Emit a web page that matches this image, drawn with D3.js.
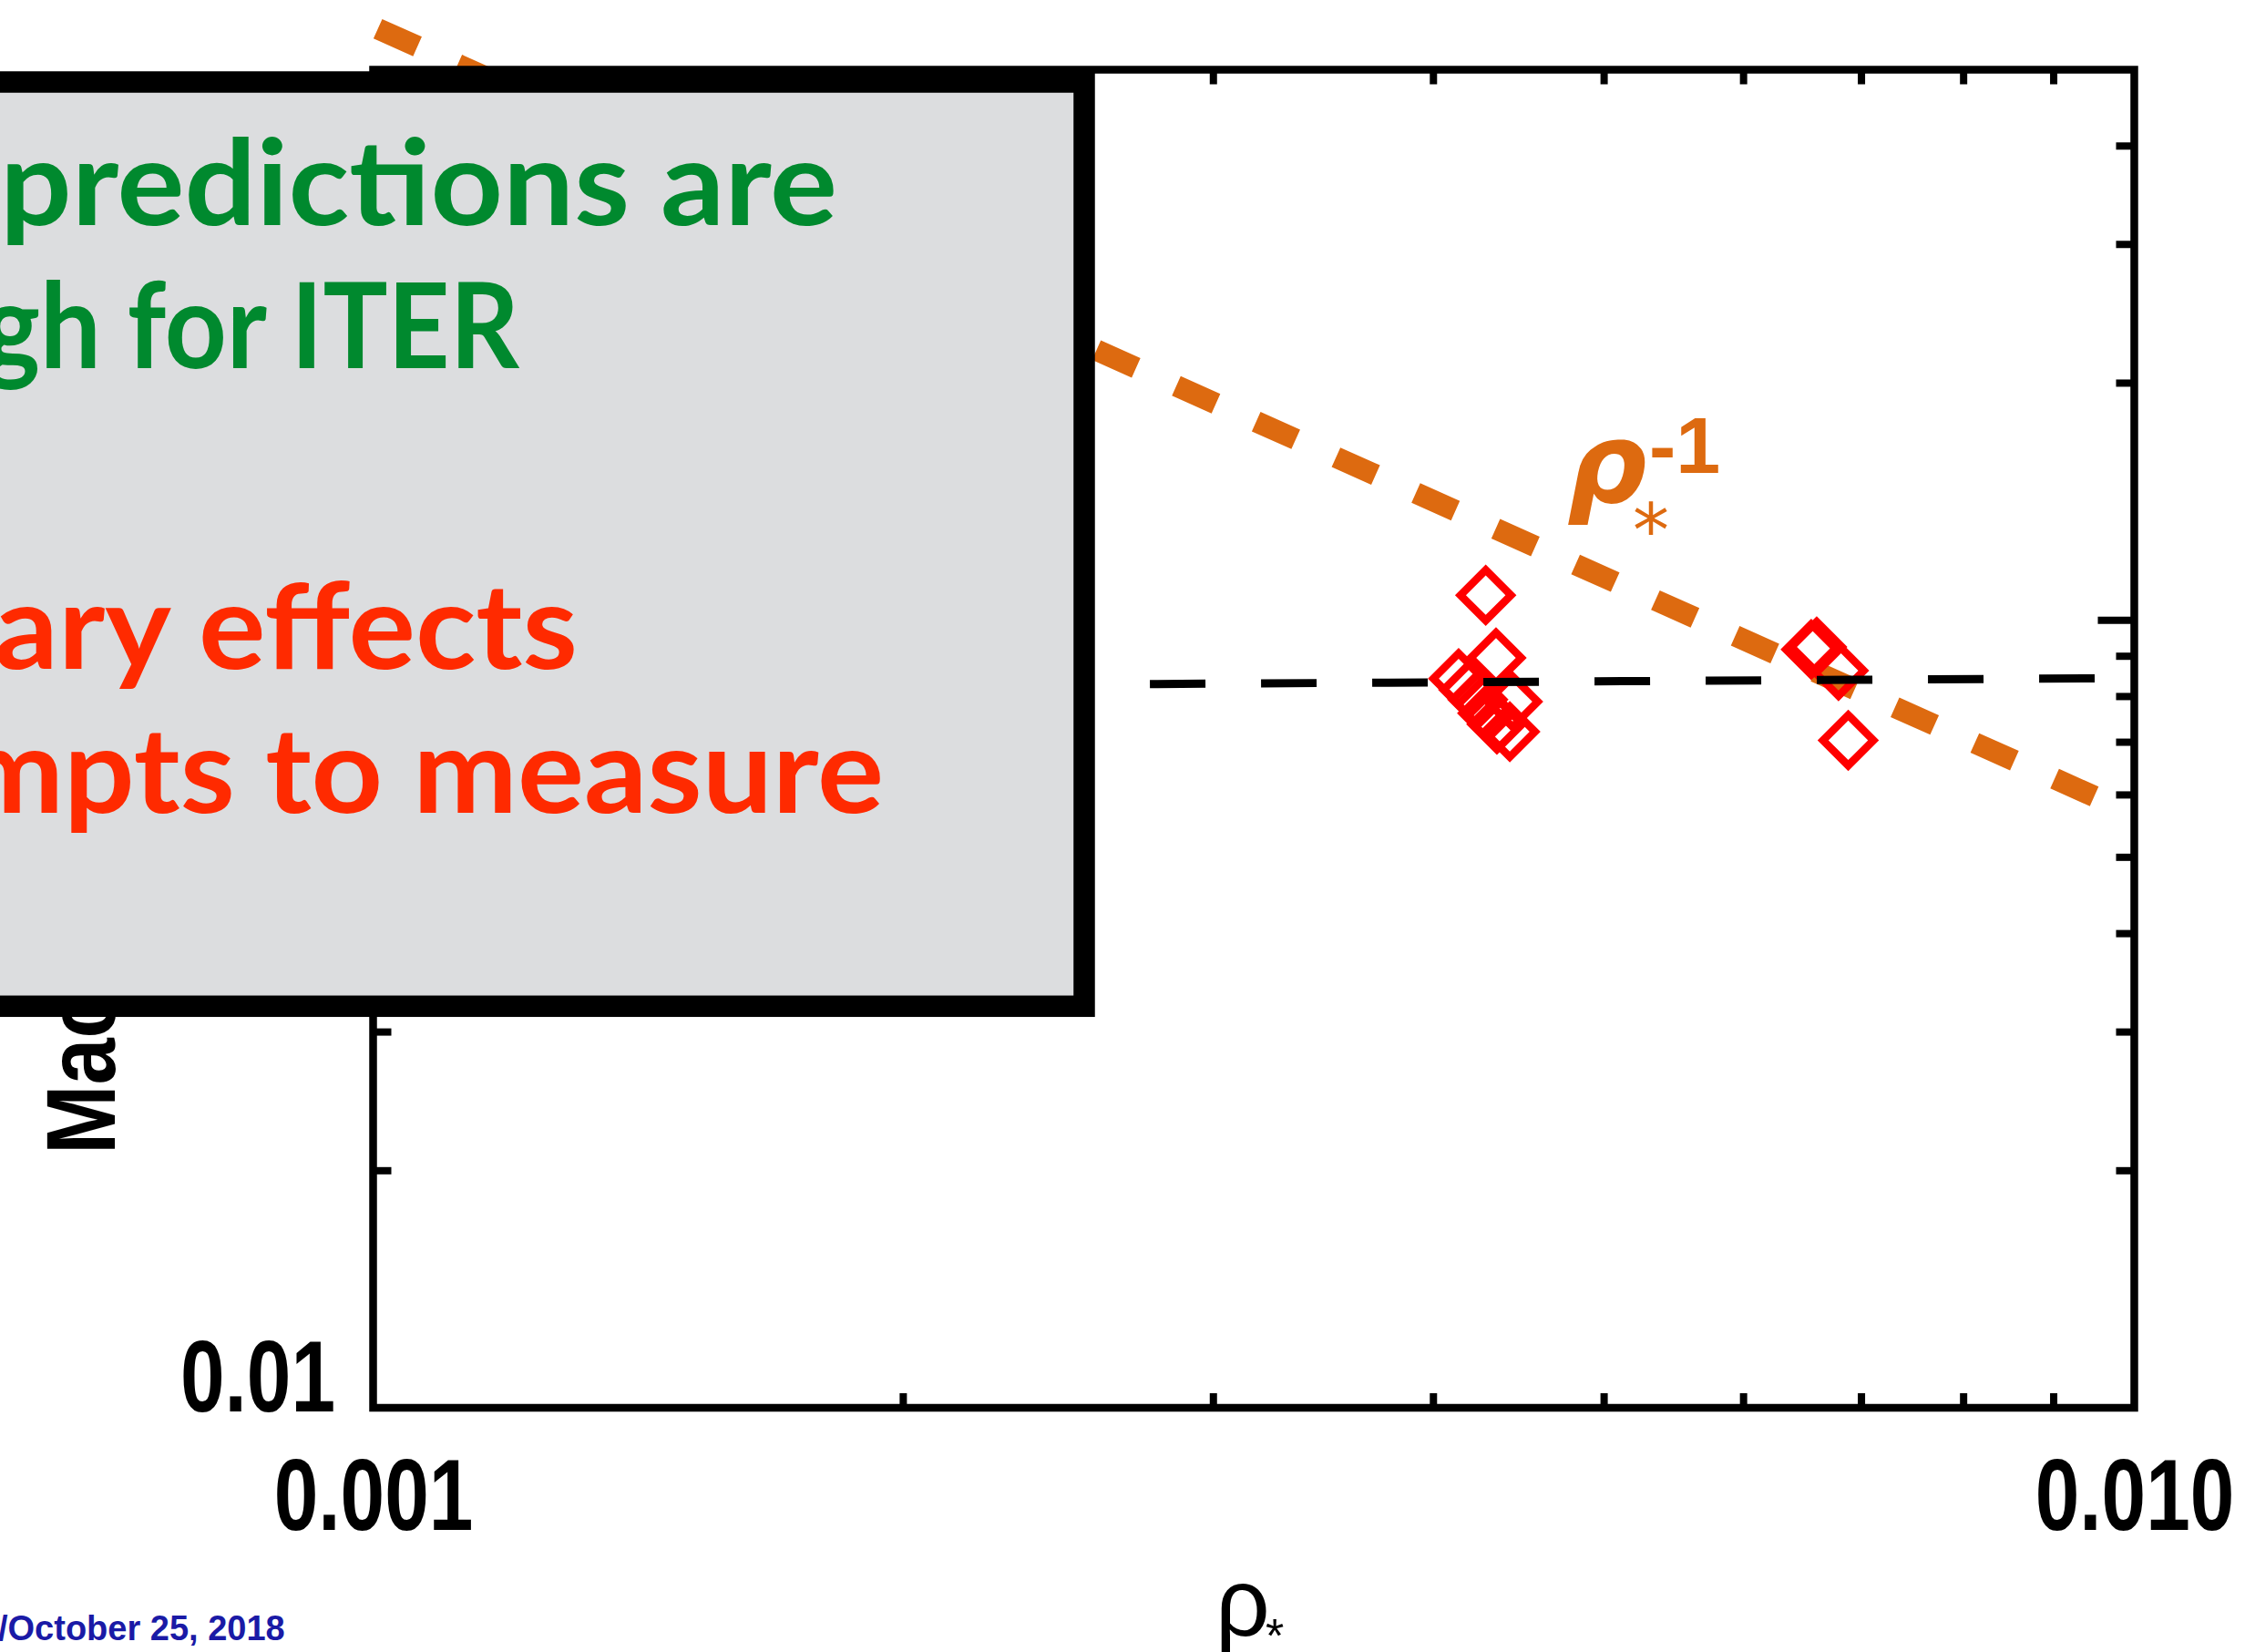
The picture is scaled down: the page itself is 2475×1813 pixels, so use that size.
<!DOCTYPE html>
<html>
<head>
<meta charset="utf-8">
<script src="https://cdn.jsdelivr.net/npm/d3@7"></script>
<style>
  html, body { margin: 0; padding: 0; background: #ffffff; overflow: hidden; }
</style>
</head>
<body>
<svg id="chart" width="2475" height="1813"></svg>
<script>
// ---- data ---------------------------------------------------------------
// normalised gyroradius rho_* and measured Mach number of each discharge
const rhoStar = [0.004283, 0.004341, 0.004134, 0.004189, 0.004239, 0.004436, 0.004294,
                 0.004346, 0.004420, 0.006555, 0.006602, 0.006793, 0.006880];
const machNumber = [0.1076, 0.0896, 0.0843, 0.0816, 0.0793, 0.0788, 0.0762,
                    0.0738, 0.0722, 0.0918, 0.0925, 0.0863, 0.0704];

// rho_*^-1 scaling reference, M = coefficient / rho_*
const scalingRho = [0.001, 0.0097];
const scalingCoefficient = 5.67e-4;

// flat fit through the data
const fitRho = [0.002761, 0.0095];
const fitMach = [0.08297, 0.08437];

// axis tick labels
const xTickValues = [0.001, 0.01];
const xTickLabels = ["0.001", "0.010"];
const yTickValues = [0.01];
const yTickLabels = ["0.01"];

// text of the call-out box
const boxLines = ["Model predictions are", "high enough for ITER", "", "Boundary effects", "complicate attempts to measure"];
const boxLineColors = ["#00892E", "#00892E", "", "#FF2A00", "#FF2A00"];

// ---- layout -------------------------------------------------------------
const svg = d3.select("#chart");
const frame = { left: 409.5, right: 2342.5, top: 76.5, bottom: 1545 };
const ORANGE = "#DD6A10";

const x = d3.scaleLog().domain([0.001, 0.01]).range([frame.left, frame.right]);
const y = d3.scaleLog().domain([0.01, 0.5]).range([frame.bottom, frame.top]);

const line = d3.line().x(d => x(d[0])).y(d => y(d[1]));

// rho_*^-1 reference line (drawn first, the frame sits on top of it)
svg.append("path")
  .attr("d", line(scalingRho.map(r => [r, scalingCoefficient / r])))
  .attr("fill", "none")
  .attr("stroke", ORANGE)
  .attr("stroke-width", 23.5)
  .attr("stroke-dasharray", "47.6 48.4")
  .attr("stroke-dashoffset", 90.3);

// plot frame
svg.append("rect")
  .attr("x", frame.left).attr("y", frame.top)
  .attr("width", frame.right - frame.left)
  .attr("height", frame.bottom - frame.top)
  .attr("fill", "none")
  .attr("stroke", "#000")
  .attr("stroke-width", 8.5);

// inward tick marks on all four sides
const ticksG = svg.append("g").attr("stroke", "#000").attr("stroke-width", 8);
const xt = x.ticks().filter(d => x(d) > frame.left + 1 && x(d) < frame.right - 1);
const xTickLen = 16;
ticksG.selectAll(".xb").data(xt).join("line")
  .attr("x1", d => x(d)).attr("x2", d => x(d))
  .attr("y1", frame.bottom).attr("y2", frame.bottom - xTickLen);
ticksG.selectAll(".xt").data(xt).join("line")
  .attr("x1", d => x(d)).attr("x2", d => x(d))
  .attr("y1", frame.top).attr("y2", frame.top + xTickLen);

const yt = y.ticks().filter(d => y(d) > frame.top + 1);
const isDecade = d => Math.abs(Math.log10(d) - Math.round(Math.log10(d))) < 1e-6;
const yLen = d => isDecade(d) ? 40 : 20;
ticksG.selectAll(".yl").data(yt).join("line")
  .attr("x1", frame.left).attr("x2", d => frame.left + yLen(d))
  .attr("y1", d => y(d)).attr("y2", d => y(d));
ticksG.selectAll(".yr").data(yt).join("line")
  .attr("x1", frame.right).attr("x2", d => frame.right - yLen(d))
  .attr("y1", d => y(d)).attr("y2", d => y(d));

// measurements: open diamonds
const diamond = d3.symbol().type(d3.symbolSquare).size(1536);
svg.append("g").selectAll("path")
  .data(rhoStar.map((r, i) => [r, machNumber[i]]))
  .join("path")
  .attr("d", diamond)
  .attr("transform", d => `translate(${x(d[0])},${y(d[1])}) rotate(45)`)
  .attr("fill", "none")
  .attr("stroke", "#FF0000")
  .attr("stroke-width", 8.5);

// flat fit, long black dashes
svg.append("path")
  .attr("d", line(fitRho.map((r, i) => [r, fitMach[i]])))
  .attr("fill", "none")
  .attr("stroke", "#000")
  .attr("stroke-width", 9)
  .attr("stroke-dasharray", "61 61");

// tick labels (condensed bold figures)
const labelFont = "'Liberation Sans Narrow', 'Arial Narrow', sans-serif";
const labelSqueeze = 0.78;
const xAxis = svg.append("g")
  .attr("transform", `translate(0,${frame.bottom})`)
  .call(d3.axisBottom(x).tickValues(xTickValues)
    .tickFormat((d, i) => xTickLabels[i]).tickSize(0));
xAxis.select(".domain").remove();
xAxis.selectAll("text")
  .attr("y", 134.5).attr("dy", null)
  .attr("transform", `scale(${labelSqueeze},1)`)
  .attr("fill", "#000")
  .style("font-family", labelFont)
  .style("font-weight", "bold")
  .style("font-size", "112px");

const yAxis = svg.append("g")
  .attr("transform", `translate(${frame.left},0)`)
  .call(d3.axisLeft(y).tickValues(yTickValues)
    .tickFormat((d, i) => yTickLabels[i]).tickSize(0));
yAxis.select(".domain").remove();
yAxis.selectAll("text")
  .attr("x", -41.5 / labelSqueeze).attr("y", 3).attr("dy", null)
  .attr("transform", `scale(${labelSqueeze},1)`)
  .attr("fill", "#000")
  .style("font-family", labelFont)
  .style("font-weight", "bold")
  .style("font-size", "112px");

// axis titles
svg.append("text")
  .attr("transform", "translate(126,1267) rotate(-90) scale(0.85,1)")
  .attr("fill", "#000")
  .style("font-family", labelFont)
  .style("font-weight", "bold")
  .style("font-size", "108px")
  .text("Mach number");

svg.append("text")
  .attr("x", 1334).attr("y", 1795)
  .attr("fill", "#000")
  .style("font-family", labelFont)
  .style("font-size", "105px")
  .text("ρ");
svg.append("text")
  .attr("x", 1389).attr("y", 1813)
  .attr("fill", "#000")
  .style("font-family", "'Liberation Sans', Arial, sans-serif")
  .style("font-size", "52px")
  .text("*");

// rho_*^-1 label
svg.append("text")
  .attr("x", 1720).attr("y", 551)
  .attr("fill", ORANGE)
  .style("font-family", "'DejaVu Sans', sans-serif")
  .style("font-weight", "bold")
  .style("font-style", "italic")
  .style("font-size", "122px")
  .text("ρ");
svg.append("text")
  .attr("x", 1812).attr("y", 610)
  .attr("text-anchor", "middle")
  .attr("fill", ORANGE)
  .style("font-family", "'DejaVu Sans', sans-serif")
  .style("font-size", "80px")
  .text("*");
svg.append("text")
  .attr("x", 1810).attr("y", 519)
  .attr("fill", ORANGE)
  .style("font-family", "'Liberation Sans', Arial, sans-serif")
  .style("font-weight", "bold")
  .style("font-size", "88px")
  .text("-1");

// call-out box
const box = { x0: -60, y0: 90, x1: 1190, y1: 1104.3 };
svg.append("rect")
  .attr("x", box.x0).attr("y", box.y0)
  .attr("width", box.x1 - box.x0).attr("height", box.y1 - box.y0)
  .attr("fill", "#DCDDDF")
  .attr("stroke", "#000")
  .attr("stroke-width", 23.5);

// each line is right-aligned; the visible tail is fitted to its span
const boxFont = "Lato, 'Noto Sans', sans-serif";
const lineEnds = [919, 570, 0, 634, 970];
const tailStarts = [0, 44, 0, -6, 70];
const tails = ["predictions are", "h for ITER", "", "ary effects", "pts to measure"];
const baselines = [247, 404, 0, 734, 892];
boxLines.forEach((txt, i) => {
  if (!txt) return;
  const probe = svg.append("text")
    .style("font-family", boxFont).style("font-weight", "bold").style("font-size", "130px")
    .text(tails[i]);
  const tailLen = probe.node().getComputedTextLength();
  probe.remove();
  const sx = (lineEnds[i] - tailStarts[i]) / tailLen;
  svg.append("text")
    .attr("transform", `translate(${lineEnds[i]},${baselines[i]}) scale(${sx},1)`)
    .attr("text-anchor", "end")
    .attr("fill", boxLineColors[i])
    .style("font-family", boxFont)
    .style("font-weight", "bold")
    .style("font-size", "130px")
    .text(txt);
});

// footer
svg.append("text")
  .attr("x", -2).attr("y", 1800)
  .attr("fill", "#1A1AA6")
  .style("font-family", "'Liberation Sans', Arial, sans-serif")
  .style("font-weight", "bold")
  .style("font-size", "38px")
  .text("/October 25, 2018");
</script>
</body>
</html>
